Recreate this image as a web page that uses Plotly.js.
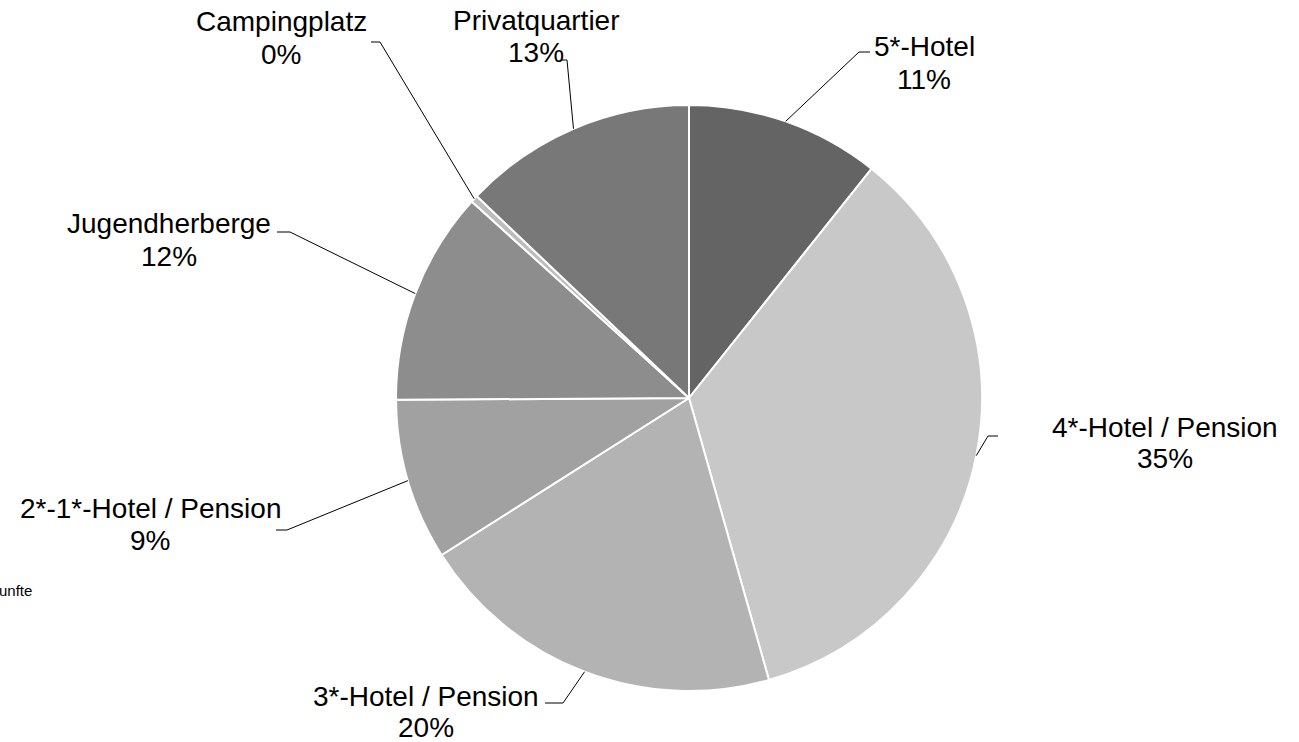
<!DOCTYPE html>
<html>
<head>
<meta charset="utf-8">
<script src="https://cdn.plot.ly/plotly-3.0.1.min.js"></script>
<style>html,body{margin:0;padding:0;background:#fff;}#chart{width:1299px;height:742px;}</style>
</head>
<body>
<div id="chart"></div>
<script>
// ---- data ----
const categories = ["5*-Hotel", "4*-Hotel / Pension", "3*-Hotel / Pension", "2*-1*-Hotel / Pension", "Jugendherberge", "Campingplatz", "Privatquartier"];
const shares = [10.7, 34.9, 20.4, 8.9, 11.8, 0.4, 12.9];
const sliceColors = ["#646464", "#c8c8c8", "#b3b3b3", "#a1a1a1", "#8d8d8d", "#bdbdbd", "#787878"];
const clippedLegendText = "unfte";

// ---- layout helpers (label placement, pixels) ----
const W = 1299, H = 742;
const pieCenter = [689, 398], pieRadius = 293;
// label block: [centerX, nameY, pctY], elbow: [elbowX, elbowY, endX]
const labelPos = [
  [924, 47, 79],
  [1165, 427, 459],
  [426, 696, 727],
  [150, 508, 540],
  [169, 224, 256],
  [281, 22, 54],
  [536, 20, 52]
];
const elbows = [
  [859, 52, 870],
  [988, 436, 998],
  [563, 703, 545],
  [287, 530, 276],
  [290, 232, 277],
  [380, 42, 371],
  [567, 60, 562]
];

const px = x => x / W;
const py = y => 1 - y / H;

const total = shares.reduce((a, b) => a + b, 0);
const annotations = [];
const shapes = [];
let cum = 0;
categories.forEach((c, i) => {
  const mid = (cum + shares[i] / 2) / total * 2 * Math.PI;
  cum += shares[i];
  const ex = pieCenter[0] + pieRadius * Math.sin(mid);
  const ey = pieCenter[1] - pieRadius * Math.cos(mid);
  const pct = Math.round(shares[i] / total * 100) + "%";
  const [lx, ny, py2] = labelPos[i];
  const font = {family: "Liberation Sans, Arial, sans-serif", size: 28, color: "#000"};
  annotations.push({xref: "paper", yref: "paper", x: px(lx), y: py(ny), text: c, showarrow: false, xanchor: "center", yanchor: "middle", font});
  annotations.push({xref: "paper", yref: "paper", x: px(lx), y: py(py2), text: pct, showarrow: false, xanchor: "center", yanchor: "middle", font});
  const [bx, by, endx] = elbows[i];
  const line = {color: "#000", width: 1};
  shapes.push({type: "line", xref: "paper", yref: "paper", x0: px(ex), y0: py(ey), x1: px(bx), y1: py(by), line});
  shapes.push({type: "line", xref: "paper", yref: "paper", x0: px(bx), y0: py(by), x1: px(endx), y1: py(by), line});
});

annotations.push({xref: "paper", yref: "paper", x: 0, y: py(590), text: clippedLegendText, showarrow: false, xanchor: "left", yanchor: "middle", xshift: -3, font: {family: "Liberation Sans, Arial, sans-serif", size: 15, color: "#000"}});

const trace = {
  type: "pie",
  labels: categories,
  values: shares,
  sort: false,
  direction: "clockwise",
  rotation: 0,
  textinfo: "none",
  hoverinfo: "label+percent",
  marker: {colors: sliceColors, line: {color: "#ffffff", width: 2}},
  domain: {
    x: [px(pieCenter[0] - pieRadius), px(pieCenter[0] + pieRadius)],
    y: [py(pieCenter[1] + pieRadius), py(pieCenter[1] - pieRadius)]
  },
  showlegend: false
};

Plotly.newPlot("chart", [trace], {
  width: W, height: H,
  margin: {l: 0, r: 0, t: 0, b: 0},
  paper_bgcolor: "#fff",
  showlegend: false,
  annotations, shapes
}, {displayModeBar: false, staticPlot: true});
</script>
</body>
</html>
